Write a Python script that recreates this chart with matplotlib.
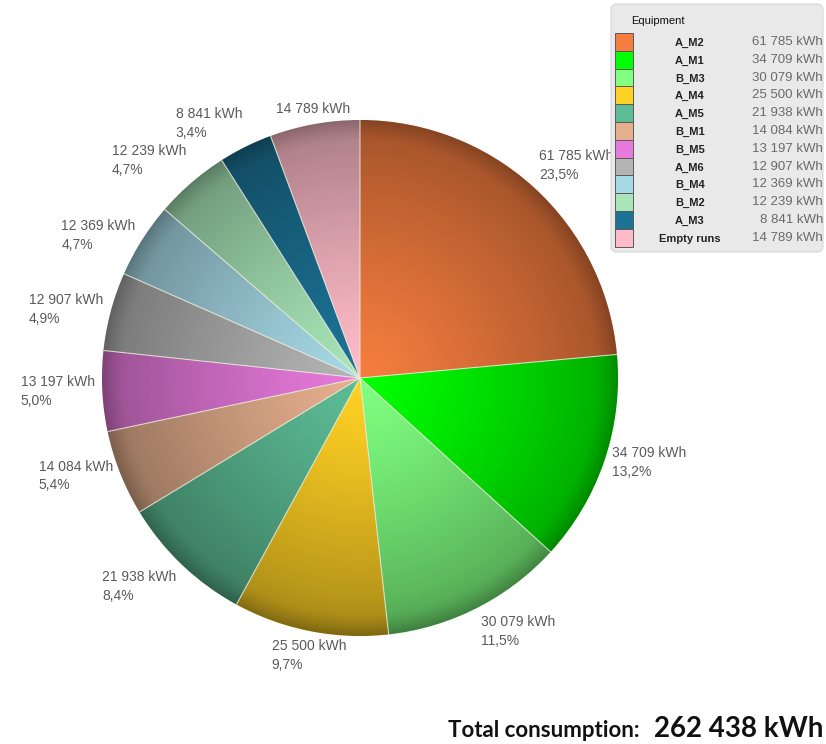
import numpy as np
import matplotlib
matplotlib.use("Agg")
import matplotlib.pyplot as plt
from matplotlib.patches import Circle, FancyBboxPatch, Rectangle

# ---------------- data ----------------
equipment = ["A_M2", "A_M1", "B_M3", "A_M4", "A_M5", "B_M1",
             "B_M5", "A_M6", "B_M4", "B_M2", "A_M3", "Empty runs"]
consumption_kwh = [61785, 34709, 30079, 25500, 21938, 14084,
                   13197, 12907, 12369, 12239, 8841, 14789]
colors = ["#F57D3F", "#00FF00", "#80FF80", "#FFD124", "#5CBC95", "#E6B08E",
          "#E77ADC", "#B4B4B4", "#A6D9E6", "#A8E6B8", "#1C7396", "#FFBCC8"]
show_percent = [True] * 11 + [False]
legend_title = "Equipment"
total_label = "Total consumption:"
total_kwh = 262438

def fmt_kwh(v):
    return f"{v:,}".replace(",", " ") + " kWh"

def fmt_pct(p):
    return f"{p:.1f}".replace(".", ",") + "%"

# ---------------- figure ----------------
W, H = 826, 744
fig = plt.figure(figsize=(W / 100, H / 100), dpi=100)
ax = fig.add_axes([0, 0, 1, 1])
ax.axis("off")

# pie geometry in pixels (center and radius), converted to axes limits
cx, cy, R = 360, 378, 258
xlim = (-cx / R, (W - cx) / R)
ylim = (-(H - cy) / R, cy / R)

wedges, _ = ax.pie(consumption_kwh, colors=colors, startangle=90,
                   counterclock=False, radius=1.0, center=(0, 0),
                   wedgeprops=dict(linewidth=0, zorder=1), frame=False)

# radial shading overlay (3D-ish look)
n = 600
g = np.linspace(-1, 1, n)
X, Y = np.meshgrid(g, g)
r = np.sqrt(X ** 2 + Y ** 2)
alpha = 0.34 * r ** 1.25
alpha += 0.12 * np.clip((r - 0.92) / 0.08, 0, 1) ** 1.2
alpha += 0.05 * np.clip(-Y, 0, 1) ** 3 * np.clip((r - 0.85) / 0.15, 0, 1)
alpha = np.clip(alpha, 0, 0.6)
rgba = np.zeros((n, n, 4))
rgba[..., 3] = alpha
im = ax.imshow(rgba, extent=(-1, 1, -1, 1), origin="lower", zorder=2,
               interpolation="bilinear")
clip = Circle((0, 0), 1.0, transform=ax.transData)
im.set_clip_path(clip)

# light separator lines between wedges
for w in wedges:
    t = np.deg2rad(w.theta1)
    ax.plot([0, np.cos(t)], [0, np.sin(t)], color="#EEEEDD", lw=0.8,
            alpha=0.8, zorder=3, solid_capstyle="butt")

ax.set_xlim(*xlim)
ax.set_ylim(*ylim)
ax.set_aspect("auto")

# labels around the pie
total = sum(consumption_kwh)
for w, v, sp in zip(wedges, consumption_kwh, show_percent):
    mid = np.deg2rad((w.theta1 + w.theta2) / 2)
    c, s = np.cos(mid), np.sin(mid)
    x, y = 1.03 * c, 1.03 * s
    if abs(c) < 0.2:
        ha = "center"
    else:
        ha = "left" if c > 0 else "right"
    if s > 0.6:
        va = "bottom"
    elif s < -0.6:
        va = "top"
    else:
        va = "center"
    txt = fmt_kwh(v)
    if sp:
        txt += "\n" + fmt_pct(100 * v / total)
    ax.text(x, y, txt, ha=ha, va=va, multialignment="left",
            fontsize=10, color="#5A5A5A", family="Liberation Sans",
            linespacing=1.45, zorder=4)

# ---------------- legend box ----------------
def px(x, y):
    return x / W, 1 - y / H

lx0, ly0, lx1, ly1 = 611, 4, 823, 252
box = FancyBboxPatch(px(lx0, ly1), (lx1 - lx0) / W, (ly1 - ly0) / H,
                     boxstyle="round,pad=0,rounding_size=0.008",
                     transform=fig.transFigure, facecolor="#E9E9E9",
                     edgecolor="#D6D6D6", linewidth=0.8, zorder=10)
fig.patches.append(box)
fig.text(*px(631, 21), legend_title, ha="left", va="center", fontsize=8,
         color="#111111", family="Liberation Sans", zorder=11)
row0, dy = 42, 17.8
for i, (name, v, col) in enumerate(zip(equipment, consumption_kwh, colors)):
    yc = row0 + i * dy
    sq = Rectangle(px(615, yc + dy / 2), 18 / W, dy / H,
                   transform=fig.transFigure, facecolor=col,
                   edgecolor="#5A5A5A", linewidth=0.7, zorder=11)
    fig.patches.append(sq)
    fig.text(*px(690, yc + 1), name, ha="center", va="center", fontsize=8,
             fontweight="bold", color="#222222", family="Liberation Sans",
             zorder=12)
    fig.text(*px(823, yc), fmt_kwh(v), ha="right", va="center",
             fontsize=9.5, color="#6A6A6A", family="Liberation Sans",
             zorder=12)

# ---------------- total ----------------
fig.text(*px(640, 737), total_label, ha="right", va="baseline",
         fontsize=16, fontweight="bold", family="Lato", color="#111111")
fig.text(*px(823, 737), f"{total_kwh:,}".replace(",", " ") + " kWh",
         ha="right", va="baseline", fontsize=20, fontweight="bold",
         family="Lato", color="#111111")

fig.savefig("out.png", dpi=100)
